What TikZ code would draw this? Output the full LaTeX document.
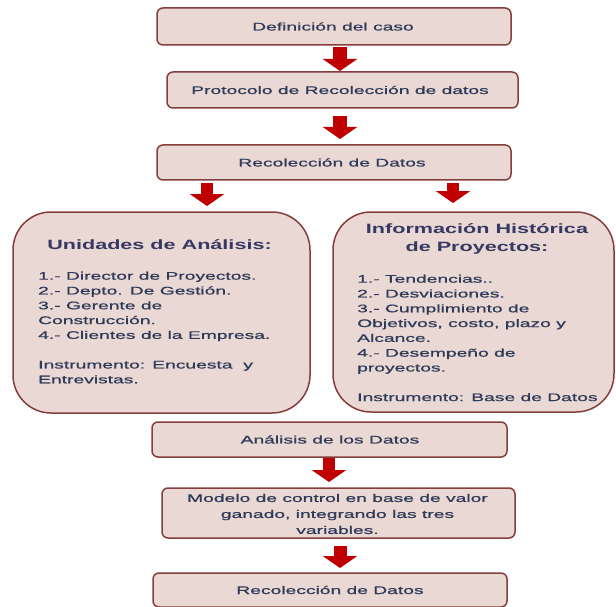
\documentclass[tikz,border=0pt]{standalone}
\usepackage{fontspec}
\setmainfont{Liberation Sans}[FakeStretch=1.75, FakeBold=0.9]
\newfontfamily\headfont{Liberation Sans}[FakeStretch=1.6]
\usetikzlibrary{arrows.meta}
\definecolor{boxfill}{HTML}{EAD8D4}
\definecolor{boxline}{HTML}{843F3C}
\definecolor{txt}{HTML}{2F3A58}
\definecolor{headtxt}{HTML}{363962}
\definecolor{arrowred}{HTML}{C00000}
\tikzset{
  flowbox/.style={draw=boxline, fill=boxfill, line width=1.5pt, rounded corners=6pt, inner sep=0pt},
  bigbox/.style={draw=boxline, fill=boxfill, line width=1.5pt, rounded corners=38pt, inner sep=0pt},
  boxtext/.style={text=txt, font=\fontsize{11}{15}\selectfont, align=center, inner sep=0pt},
  bodytext/.style={text=txt, font=\fontsize{11}{14.8}\selectfont, align=left, inner sep=0pt, anchor=north west},
  headtext/.style={text=headtxt, font=\headfont\bfseries\fontsize{13.5}{18}\selectfont, align=center, inner sep=0pt},
  bigarrow/.style={draw=arrowred, line width=#1, -{Triangle[length=12pt, width=34pt, fill=arrowred]}},
  bigarrow/.default=14pt
}
\begin{document}
\begin{tikzpicture}[x=1pt, y=-1pt]
\useasboundingbox (0,0) rectangle (616,607);
\fill[white] (0,0) rectangle (616,607);
% boxes
\node[flowbox, minimum width=354pt, minimum height=37pt] (def) at (334,26.5) {};
\node[boxtext] (deft) at (333,26.5) {Definición del caso};
\node[flowbox, minimum width=351pt, minimum height=36pt] (prot) at (342.5,90) {};
\node[boxtext] (prott) at (340,90) {Protocolo de Recolección de datos};
\node[flowbox, minimum width=354pt, minimum height=35pt] (rec) at (334,162.5) {};
\node[boxtext] (rect) at (332,162.5) {Recolección de Datos};
\node[bigbox, minimum width=297pt, minimum height=201pt] (left) at (161.5,312.5) {};
\node[headtext] (lefth) at (159.5,245) {Unidades de Análisis:};
\node[bodytext] (leftb) at (38,271.5) {1.- Director de Proyectos.\\2.- Depto. De Gestión.\\3.- Gerente de\\Construcción.\\4.- Clientes de la Empresa.\\[14.8pt]Instrumento: Encuesta\ \ y\\Entrevistas.};
\node[bigbox, minimum width=281pt, minimum height=200pt] (right) at (473.5,312) {};
\node[headtext] (righth) at (477,239) {Información Histórica\\de Proyectos:};
\node[bodytext] (rightb) at (357,274.5) {1.- Tendencias..\\2.- Desviaciones.\\3.- Cumplimiento de\\Objetivos, costo, plazo y\\Alcance.\\4.- Desempeño de\\proyectos.\\[14.8pt]Instrumento: Base de Datos};
\node[flowbox, minimum width=355pt, minimum height=35pt] (anal) at (329.5,439.5) {};
\node[boxtext] (analt) at (330,439.5) {Análisis de los Datos};
\node[flowbox, minimum width=353pt, minimum height=50pt] (mod) at (338.5,513) {};
\node[boxtext, font=\fontsize{11}{16}\selectfont] (modt) at (337.5,514) {Modelo de control en base de valor\\ganado, integrando las tres\\variables.};
\node[flowbox, minimum width=354pt, minimum height=34pt] (rec2) at (330,590) {};
\node[boxtext] (rec2t) at (330,590) {Recolección de Datos};
% arrows
\coordinate (a1s) at (340,47);  \coordinate (a1e) at (340,71);
\coordinate (a2s) at (340,116); \coordinate (a2e) at (340,139);
\coordinate (a3s) at (207,183); \coordinate (a3e) at (207,206);
\coordinate (a4s) at (453,183); \coordinate (a4e) at (453,203);
\coordinate (a5s) at (329,458); \coordinate (a5e) at (329,482);
\coordinate (a6s) at (340,546); \coordinate (a6e) at (340,568);
\draw[bigarrow] (a1s) -- (a1e);
\draw[bigarrow] (a2s) -- (a2e);
\draw[bigarrow=12pt] (a3s) -- (a3e);
\draw[bigarrow=12pt] (a4s) -- (a4e);
\draw[bigarrow=12pt] (a5s) -- (a5e);
\draw[bigarrow=13pt] (a6s) -- (a6e);
\end{tikzpicture}
\end{document}
